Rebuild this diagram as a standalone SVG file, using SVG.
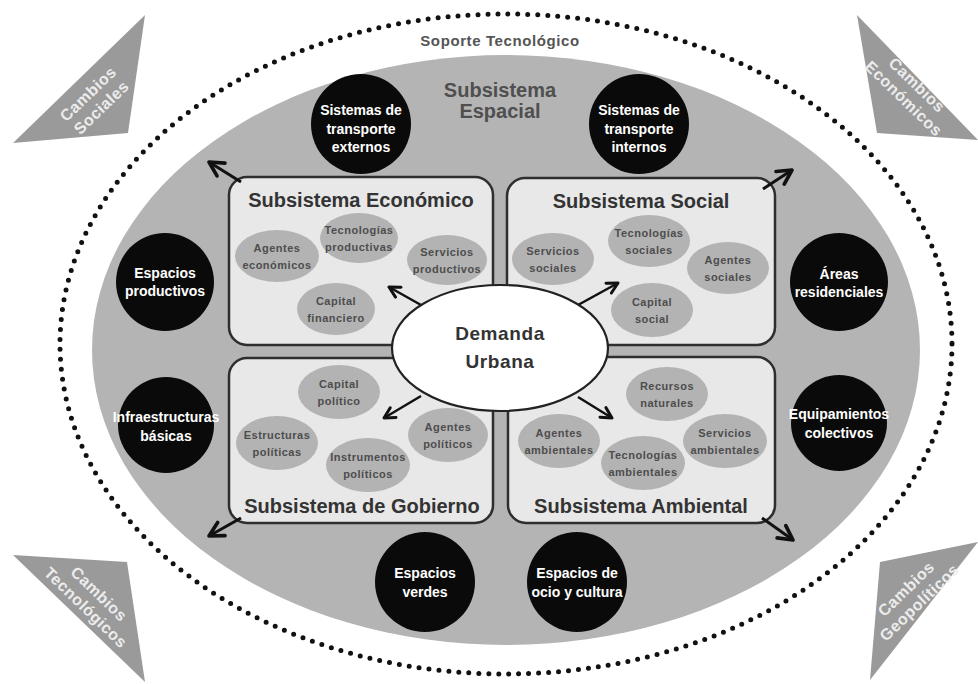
<svg xmlns="http://www.w3.org/2000/svg" width="978" height="684" viewBox="0 0 978 684">
<style>
text{font-family:"Liberation Sans",Arial,sans-serif;font-weight:bold;text-anchor:middle}
.tri{fill:#9a9a9a}
.trit{fill:#ececec;font-size:16px;letter-spacing:0.5px}
.blk{fill:#0a0a0a}
.blkt{fill:#ffffff;font-size:14px}
.box{fill:#e8e8e8;stroke:#2e2e2e;stroke-width:2.5}
.boxt{fill:#333;font-size:20px}
.sub{fill:#b3b3b3}
.subt{fill:#4d4d4d;font-size:11px;letter-spacing:0.5px}
.arr{fill:none;stroke:#111;stroke-width:3;marker-end:url(#ah)}
.arri{fill:none;stroke:#111;stroke-width:2.5;marker-end:url(#ahs)}
</style>
<defs>
<marker id="ah" viewBox="0 0 12 12" refX="10" refY="6" markerWidth="20" markerHeight="20" markerUnits="userSpaceOnUse" orient="auto"><path d="M1.5,1.5 L10,6 L1.5,10.5" fill="none" stroke="#111" stroke-width="2.2" stroke-linecap="round" stroke-linejoin="round"/></marker>
<marker id="ahs" viewBox="0 0 12 12" refX="10" refY="6" markerWidth="15" markerHeight="15" markerUnits="userSpaceOnUse" orient="auto"><path d="M1.5,1.5 L10,6 L1.5,10.5" fill="none" stroke="#111" stroke-width="2.4" stroke-linecap="round" stroke-linejoin="round"/></marker>
</defs>
<rect width="978" height="684" fill="#ffffff"/>

<g id="soporte-tecnologico">
<ellipse cx="506" cy="344" rx="446" ry="330" fill="none" stroke="#111" stroke-width="5" stroke-dasharray="0 10" stroke-linecap="round"/>
<text x="500" y="46" style="fill:#555;font-size:15px;letter-spacing:0.6px">Soporte Tecnológico</text>
</g>

<g id="subsistema-espacial">
<ellipse cx="506" cy="350" rx="414" ry="295" fill="#b4b4b4"/>
<text x="500" y="97" style="fill:#4f4f4f;font-size:20px">Subsistema</text>
<text x="500" y="118" style="fill:#4f4f4f;font-size:20px">Espacial</text>
</g>

<g id="cambios-sociales">
<polygon class="tri" points="145,15 13,143 128,133"/>
<g transform="translate(94,100) rotate(-44)">
<text class="trit" x="0" y="-3">Cambios</text>
<text class="trit" x="0" y="16">Sociales</text>
</g>
</g>
<g id="cambios-economicos">
<polygon class="tri" points="857,15 978,140 877,133"/>
<g transform="translate(911,91) rotate(44)">
<text class="trit" x="0" y="-3">Cambios</text>
<text class="trit" x="0" y="16">Económicos</text>
</g>
</g>
<g id="cambios-tecnologicos">
<polygon class="tri" points="13,555 127,562 145,682"/>
<g transform="translate(93,600) rotate(44)">
<text class="trit" x="0" y="-3">Cambios</text>
<text class="trit" x="0" y="16">Tecnológicos</text>
</g>
</g>
<g id="cambios-geopoliticos">
<polygon class="tri" points="978,542 880,562 870,680"/>
<g transform="translate(912,595) rotate(-44)">
<text class="trit" x="0" y="-3">Cambios</text>
<text class="trit" x="0" y="16">Geopolíticos</text>
</g>
</g>

<g id="transporte-externos">
<circle class="blk" cx="361" cy="124" r="50"/>
<text class="blkt" x="361" y="115">Sistemas de</text>
<text class="blkt" x="361" y="133.5">transporte</text>
<text class="blkt" x="361" y="152">externos</text>
</g>
<g id="transporte-internos">
<circle class="blk" cx="639" cy="124" r="50"/>
<text class="blkt" x="639" y="115">Sistemas de</text>
<text class="blkt" x="639" y="133.5">transporte</text>
<text class="blkt" x="639" y="152">internos</text>
</g>
<g id="espacios-productivos">
<circle class="blk" cx="165" cy="282" r="49"/>
<text class="blkt" x="165" y="278">Espacios</text>
<text class="blkt" x="165" y="296">productivos</text>
</g>
<g id="infraestructuras-basicas">
<circle class="blk" cx="166" cy="425" r="48"/>
<text class="blkt" x="166" y="422">Infraestructuras</text>
<text class="blkt" x="166" y="441">básicas</text>
</g>
<g id="areas-residenciales">
<circle class="blk" cx="839" cy="282" r="49"/>
<text class="blkt" x="839" y="279">Áreas</text>
<text class="blkt" x="839" y="297">residenciales</text>
</g>
<g id="equipamientos-colectivos">
<circle class="blk" cx="839" cy="423" r="48"/>
<text class="blkt" x="839" y="419">Equipamientos</text>
<text class="blkt" x="839" y="438">colectivos</text>
</g>
<g id="espacios-verdes">
<circle class="blk" cx="425" cy="582" r="50"/>
<text class="blkt" x="425" y="578">Espacios</text>
<text class="blkt" x="425" y="597">verdes</text>
</g>
<g id="espacios-ocio">
<circle class="blk" cx="577" cy="582" r="50"/>
<text class="blkt" x="577" y="578">Espacios de</text>
<text class="blkt" x="577" y="597">ocio y cultura</text>
</g>

<g id="subsistema-economico">
<rect class="box" x="229" y="177" width="264" height="168" rx="18"/>
<text class="boxt" x="361" y="207">Subsistema Económico</text>
<ellipse class="sub" cx="277" cy="256" rx="42" ry="26"/>
<text class="subt" x="277" y="252">Agentes</text>
<text class="subt" x="277" y="269">económicos</text>
<ellipse class="sub" cx="359" cy="238" rx="39" ry="25"/>
<text class="subt" x="359" y="234">Tecnologías</text>
<text class="subt" x="359" y="251">productivas</text>
<ellipse class="sub" cx="447" cy="260" rx="40" ry="25"/>
<text class="subt" x="447" y="256">Servicios</text>
<text class="subt" x="447" y="273">productivos</text>
<ellipse class="sub" cx="336" cy="309" rx="39" ry="26"/>
<text class="subt" x="336" y="305">Capital</text>
<text class="subt" x="336" y="322">financiero</text>
</g>

<g id="subsistema-social">
<rect class="box" x="507" y="178" width="268" height="167" rx="18"/>
<text class="boxt" x="641" y="208">Subsistema Social</text>
<ellipse class="sub" cx="553" cy="259" rx="41" ry="26"/>
<text class="subt" x="553" y="255">Servicios</text>
<text class="subt" x="553" y="272">sociales</text>
<ellipse class="sub" cx="649" cy="241" rx="41" ry="26"/>
<text class="subt" x="649" y="237">Tecnologías</text>
<text class="subt" x="649" y="254">sociales</text>
<ellipse class="sub" cx="728" cy="268" rx="41" ry="26"/>
<text class="subt" x="728" y="264">Agentes</text>
<text class="subt" x="728" y="281">sociales</text>
<ellipse class="sub" cx="652" cy="310" rx="41" ry="27"/>
<text class="subt" x="652" y="306">Capital</text>
<text class="subt" x="652" y="323">social</text>
</g>

<g id="subsistema-gobierno">
<rect class="box" x="229" y="358" width="264" height="165" rx="18"/>
<text class="boxt" x="362" y="513">Subsistema de Gobierno</text>
<ellipse class="sub" cx="339" cy="392" rx="41" ry="27"/>
<text class="subt" x="339" y="388">Capital</text>
<text class="subt" x="339" y="405">político</text>
<ellipse class="sub" cx="277" cy="443" rx="41" ry="27"/>
<text class="subt" x="277" y="439">Estructuras</text>
<text class="subt" x="277" y="456">políticas</text>
<ellipse class="sub" cx="368" cy="465" rx="42" ry="27"/>
<text class="subt" x="368" y="461">Instrumentos</text>
<text class="subt" x="368" y="478">políticos</text>
<ellipse class="sub" cx="448" cy="435" rx="40" ry="27"/>
<text class="subt" x="448" y="431">Agentes</text>
<text class="subt" x="448" y="448">políticos</text>
</g>

<g id="subsistema-ambiental">
<rect class="box" x="508" y="357" width="267" height="166" rx="18"/>
<text class="boxt" x="641" y="513">Subsistema Ambiental</text>
<ellipse class="sub" cx="667" cy="394" rx="41" ry="27"/>
<text class="subt" x="667" y="390">Recursos</text>
<text class="subt" x="667" y="407">naturales</text>
<ellipse class="sub" cx="559" cy="441" rx="41" ry="27"/>
<text class="subt" x="559" y="437">Agentes</text>
<text class="subt" x="559" y="454">ambientales</text>
<ellipse class="sub" cx="643" cy="463" rx="42" ry="27"/>
<text class="subt" x="643" y="459">Tecnologías</text>
<text class="subt" x="643" y="476">ambientales</text>
<ellipse class="sub" cx="725" cy="441" rx="42" ry="27"/>
<text class="subt" x="725" y="437">Servicios</text>
<text class="subt" x="725" y="454">ambientales</text>
</g>

<g id="connectors">
<path class="arr" d="M241,182 L209,162"/>
<path class="arr" d="M763,189 L792,170"/>
<path class="arr" d="M241,518 L209,536"/>
<path class="arr" d="M762,518 L793,540"/>
<path class="arri" d="M421,305 L389,287"/>
<path class="arri" d="M578,305 L618,283"/>
<path class="arri" d="M421,396 L384,418"/>
<path class="arri" d="M578,397 L612,418"/>
</g>

<g id="demanda-urbana">
<ellipse cx="500" cy="348" rx="108" ry="63" fill="#ffffff" stroke="#222" stroke-width="2.2"/>
<text x="500" y="340" style="fill:#333;font-size:19px;letter-spacing:0.6px">Demanda</text>
<text x="500" y="368" style="fill:#333;font-size:19px;letter-spacing:0.6px">Urbana</text>
</g>
</svg>
